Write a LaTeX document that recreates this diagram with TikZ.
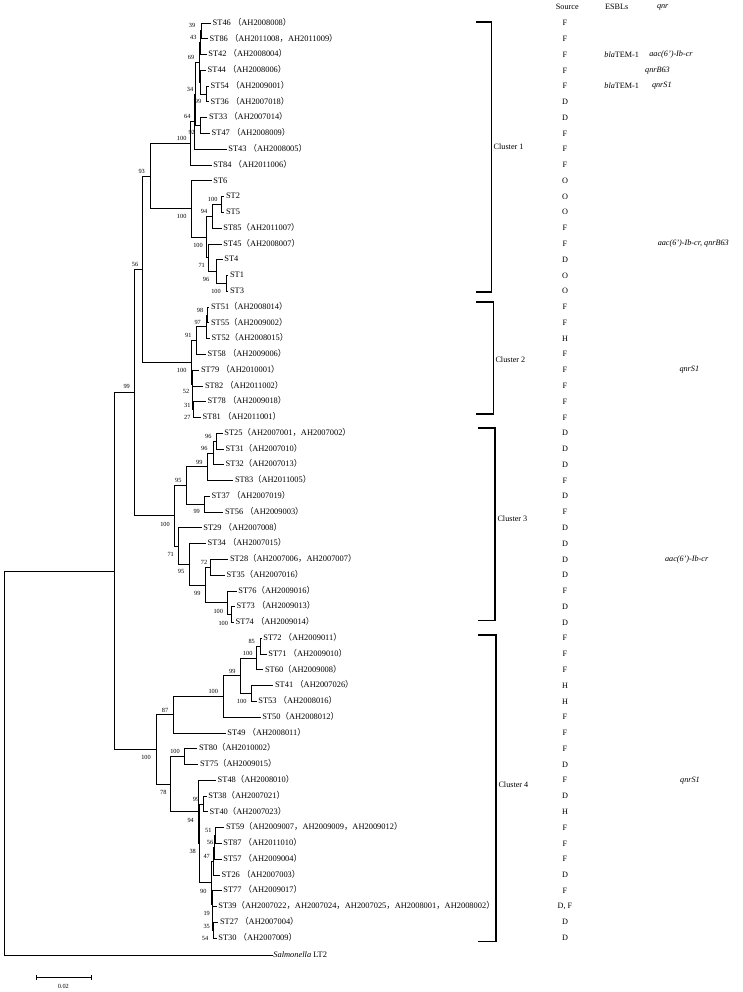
\documentclass[tikz,border=0pt]{standalone}
\usepackage{fontspec}
\setmainfont{Liberation Serif}
\newfontfamily\cjkfont{Noto Sans CJK SC}
\newcommand{\flp}{{\cjkfont （}}
\newcommand{\frp}{{\cjkfont ）}}
\newcommand{\fcm}{{\cjkfont ，}}
\tikzset{
  branch/.style={line width=0.8pt},
  leaf/.style={anchor=west, inner sep=1.5pt, font=\fontsize{8.4}{9}\selectfont, text height=6pt, text depth=1.5pt},
  boot/.style={inner sep=0pt, font=\fontsize{6.3}{7}\selectfont},
  col/.style={inner sep=0pt, font=\fontsize{8.2}{9}\selectfont},
  clbox/.style={line width=1.2pt},
}
\begin{document}
\begin{tikzpicture}[x=1pt,y=-1pt]
\useasboundingbox (0,0) rectangle (743,992);

% leaves
\node[leaf] (st46) at (211,23.0) {ST46 \flp AH2008008\frp};
\node[leaf] (st86) at (208,38.8) {ST86 \flp AH2011008\fcm AH2011009\frp};
\node[leaf] (st42) at (206.7,54.6) {ST42 \flp AH2008004\frp};
\node[leaf] (st44) at (206,70.3) {ST44 \flp AH2008006\frp};
\node[leaf] (st54) at (209,86.1) {ST54 \flp AH2009001\frp};
\node[leaf] (st36) at (209,101.9) {ST36 \flp AH2007018\frp};
\node[leaf] (st33) at (207.3,117.7) {ST33 \flp AH2007014\frp};
\node[leaf] (st47) at (210,133.4) {ST47 \flp AH2008009\frp};
\node[leaf] (st43) at (226.7,149.2) {ST43 \flp AH2008005\frp};
\node[leaf] (st84) at (211.7,165.0) {ST84 \flp AH2011006\frp};
\node[leaf] (st6) at (211.7,180.8) {ST6};
\node[leaf] (st2) at (224.3,196.5) {ST2};
\node[leaf] (st5) at (224.3,212.3) {ST5};
\node[leaf] (st85) at (221.7,228.1) {ST85\flp AH2011007\frp};
\node[leaf] (st45) at (221.7,243.9) {ST45\flp AH2008007\frp};
\node[leaf] (st4) at (222.7,259.6) {ST4};
\node[leaf] (st1) at (228.3,275.4) {ST1};
\node[leaf] (st3) at (228.3,291.2) {ST3};
\node[leaf] (st51) at (209.3,307.0) {ST51\flp AH2008014\frp};
\node[leaf] (st55) at (209.3,322.8) {ST55\flp AH2009002\frp};
\node[leaf] (st52) at (210,338.5) {ST52\flp AH2008015\frp};
\node[leaf] (st58) at (206,354.3) {ST58 \flp AH2009006\frp};
\node[leaf] (st79) at (199.3,370.1) {ST79 \flp AH2010001\frp};
\node[leaf] (st82) at (203.3,385.9) {ST82 \flp AH2011002\frp};
\node[leaf] (st78) at (206,401.6) {ST78 \flp AH2009018\frp};
\node[leaf] (st81) at (201,417.4) {ST81 \flp AH2011001\frp};
\node[leaf] (st25) at (222.7,433.2) {ST25\flp AH2007001\fcm AH2007002\frp};
\node[leaf] (st31) at (224,449.0) {ST31\flp AH2007010\frp};
\node[leaf] (st32) at (224,464.7) {ST32\flp AH2007013\frp};
\node[leaf] (st83) at (233.3,480.5) {ST83\flp AH2011005\frp};
\node[leaf] (st37) at (210,496.3) {ST37 \flp AH2007019\frp};
\node[leaf] (st56) at (223.3,512.1) {ST56 \flp AH2009003\frp};
\node[leaf] (st29) at (201.7,527.8) {ST29 \flp AH2007008\frp};
\node[leaf] (st34) at (206,543.6) {ST34 \flp AH2007015\frp};
\node[leaf] (st28) at (228.3,559.4) {ST28\flp AH2007006\fcm AH2007007\frp};
\node[leaf] (st35) at (225,575.2) {ST35\flp AH2007016\frp};
\node[leaf] (st76) at (236.7,590.9) {ST76\flp AH2009016\frp};
\node[leaf] (st73) at (235,606.7) {ST73 \flp AH2009013\frp};
\node[leaf] (st74) at (234,622.5) {ST74 \flp AH2009014\frp};
\node[leaf] (st72) at (261.7,638.3) {ST72 \flp AH2009011\frp};
\node[leaf] (st71) at (266.7,654.0) {ST71 \flp AH2009010\frp};
\node[leaf] (st60) at (263.3,669.8) {ST60\flp AH2009008\frp};
\node[leaf] (st41) at (273.3,685.6) {ST41 \flp AH2007026\frp};
\node[leaf] (st53) at (256.7,701.4) {ST53 \flp AH2008016\frp};
\node[leaf] (st50) at (260.7,717.2) {ST50\flp AH2008012\frp};
\node[leaf] (st49) at (225.7,732.9) {ST49 \flp AH2008011\frp};
\node[leaf] (st80) at (197.3,748.7) {ST80\flp AH2010002\frp};
\node[leaf] (st75) at (198.3,764.5) {ST75\flp AH2009015\frp};
\node[leaf] (st48) at (216,780.3) {ST48\flp AH2008010\frp};
\node[leaf] (st38) at (206.7,796.0) {ST38\flp AH2007021\frp};
\node[leaf] (st40) at (208,811.8) {ST40\flp AH2007023\frp};
\node[leaf] (st59) at (224.3,827.6) {ST59\flp AH2009007\fcm AH2009009\fcm AH2009012\frp};
\node[leaf] (st87) at (221.7,843.4) {ST87 \flp AH2011010\frp};
\node[leaf] (st57) at (221.7,859.1) {ST57 \flp AH2009004\frp};
\node[leaf] (st26) at (220,874.9) {ST26 \flp AH2007003\frp};
\node[leaf] (st77) at (221.7,890.7) {ST77 \flp AH2009017\frp};
\node[leaf] (st39) at (216.7,906.5) {ST39\flp AH2007022\fcm AH2007024\fcm AH2007025\fcm AH2008001\fcm AH2008002\frp};
\node[leaf] (st27) at (218.3,922.2) {ST27 \flp AH2007004\frp};
\node[leaf] (st30) at (216.7,938.0) {ST30 \flp AH2007009\frp};
\node[leaf, inner sep=0.5pt] (sal) at (272.7,955.0) {\textit{Salmonella} LT2};

% cluster 1
\coordinate (n39) at (201.7,30.9);
\coordinate (n43) at (200,42.75);
\coordinate (n99a) at (206.7,94.0);
\coordinate (n34) at (200.5,82.15);
\coordinate (n69) at (199,62.45);
\coordinate (n92) at (200,125.55);
\coordinate (n98) at (195.5,94.0);
\coordinate (n64) at (194.3,121.6);
\coordinate (n100a) at (190.7,143.3);
\coordinate (n100p) at (221.7,204.4);
\coordinate (n94a) at (212.7,216.25);
\coordinate (n100c) at (226.5,283.3);
\coordinate (n96) at (216,271.45);
\coordinate (n71) at (208.5,257.7);
\coordinate (n100d) at (206.7,237.0);
\coordinate (n100b) at (191,208.9);
\coordinate (n93) at (150.7,176.1);
% cluster 2
\coordinate (n98b) at (207,314.9);
\coordinate (n97) at (206,326.7);
\coordinate (n91) at (196.7,340.5);
\coordinate (n27) at (193.3,409.5);
\coordinate (n31) at (192.7,397.7);
\coordinate (n52) at (192,383.9);
\coordinate (n100e) at (191,362.2);
\coordinate (n56) at (142.7,269.15);
% cluster 3
\coordinate (n96b) at (216.7,441.1);
\coordinate (n96a) at (213.3,452.9);
\coordinate (n99c) at (207.3,466.7);
\coordinate (n99d) at (204,504.2);
\coordinate (n95) at (186,485.45);
\coordinate (n72) at (210.7,567.3);
\coordinate (n100m) at (231.7,614.6);
\coordinate (n100l) at (227.3,602.75);
\coordinate (n99e) at (205,585.0);
\coordinate (n95b) at (189.3,564.3);
\coordinate (n71b) at (178.3,546.05);
\coordinate (n100f) at (174,515.75);
\coordinate (n134) at (134.3,392.45);
% cluster 4
\coordinate (n85) at (260,646.15);
\coordinate (n100i) at (256.7,657.98);
\coordinate (n100j) at (251.7,693.5);
\coordinate (n99f) at (240,675.74);
\coordinate (n100h) at (223.3,696.47);
\coordinate (n87) at (173.3,714.69);
\coordinate (n100k) at (184,756.6);
\coordinate (n99g) at (203.3,803.9);
\coordinate (a1) at (215,835.5);
\coordinate (a2) at (214.5,847.3);
\coordinate (a3) at (213.5,861.1);
\coordinate (b1) at (213,930.1);
\coordinate (b2) at (212.5,918.3);
\coordinate (b3) at (212,904.5);
\coordinate (n90) at (211.7,882.8);
\coordinate (n38) at (199.3,843.35);
\coordinate (n94) at (198.3,811.8);
\coordinate (n78) at (170,784.2);
\coordinate (n100g) at (156,749.45);
\coordinate (n114) at (114,570.95);
\coordinate (root) at (4,762.98);

% branches
\begin{scope}[branch]
\draw (n39) |- (st46.west) (n39) |- (st86.west);
\draw (n43) |- (n39) (n43) |- (st42.west);
\draw (n99a) |- (st54.west) (n99a) |- (st36.west);
\draw (n34) |- (st44.west) (n34) |- (n99a);
\draw (n69) |- (n43) (n69) |- (n34);
\draw (n92) |- (st33.west) (n92) |- (st47.west);
\draw (n98) |- (n69) (n98) |- (n92);
\draw (n64) |- (n98) (n64) |- (st43.west);
\draw (n100a) |- (n64) (n100a) |- (st84.west);
\draw (n100p) |- (st2.west) (n100p) |- (st5.west);
\draw (n94a) |- (n100p) (n94a) |- (st85.west);
\draw (n100c) |- (st1.west) (n100c) |- (st3.west);
\draw (n96) |- (st4.west) (n96) |- (n100c);
\draw (n71) |- (st45.west) (n71) |- (n96);
\draw (n100d) |- (n94a) (n100d) |- (n71);
\draw (n100b) |- (st6.west) (n100b) |- (n100d);
\draw (n93) |- (n100a) (n93) |- (n100b);
\draw (n98b) |- (st51.west) (n98b) |- (st55.west);
\draw (n97) |- (n98b) (n97) |- (st52.west);
\draw (n91) |- (n97) (n91) |- (st58.west);
\draw (n27) |- (st78.west) (n27) |- (st81.west);
\draw (n31) |- (st82.west) (n31) |- (n27);
\draw (n52) |- (st79.west) (n52) |- (n31);
\draw (n100e) |- (n91) (n100e) |- (n52);
\draw (n56) |- (n93) (n56) |- (n100e);
\draw (n96b) |- (st25.west) (n96b) |- (st31.west);
\draw (n96a) |- (n96b) (n96a) |- (st32.west);
\draw (n99c) |- (n96a) (n99c) |- (st83.west);
\draw (n99d) |- (st37.west) (n99d) |- (st56.west);
\draw (n95) |- (n99c) (n95) |- (n99d);
\draw (n72) |- (st28.west) (n72) |- (st35.west);
\draw (n100m) |- (st73.west) (n100m) |- (st74.west);
\draw (n100l) |- (st76.west) (n100l) |- (n100m);
\draw (n99e) |- (n72) (n99e) |- (n100l);
\draw (n95b) |- (st34.west) (n95b) |- (n99e);
\draw (n71b) |- (st29.west) (n71b) |- (n95b);
\draw (n100f) |- (n95) (n100f) |- (n71b);
\draw (n134) |- (n56) (n134) |- (n100f);
\draw (n85) |- (st72.west) (n85) |- (st71.west);
\draw (n100i) |- (n85) (n100i) |- (st60.west);
\draw (n100j) |- (st41.west) (n100j) |- (st53.west);
\draw (n99f) |- (n100i) (n99f) |- (n100j);
\draw (n100h) |- (n99f) (n100h) |- (st50.west);
\draw (n87) |- (n100h) (n87) |- (st49.west);
\draw (n100k) |- (st80.west) (n100k) |- (st75.west);
\draw (n99g) |- (st38.west) (n99g) |- (st40.west);
\draw (a1) |- (st59.west) (a1) |- (st87.west);
\draw (a2) |- (a1) (a2) |- (st57.west);
\draw (a3) |- (a2) (a3) |- (st26.west);
\draw (b1) |- (st27.west) (b1) |- (st30.west);
\draw (b2) |- (st39.west) (b2) |- (b1);
\draw (b3) |- (st77.west) (b3) |- (b2);
\draw (n90) |- (a3) (n90) |- (b3);
\draw (n38) |- (n99g) (n38) |- (n90);
\draw (n94) |- (st48.west) (n94) |- (n38);
\draw (n78) |- (n100k) (n78) |- (n94);
\draw (n100g) |- (n87) (n100g) |- (n78);
\draw (n114) |- (n134) (n114) |- (n100g);
\draw (root) |- (n114) (root) |- (sal.west);
\end{scope}

% bootstrap values
\node[boot] (bn39) at (192,25) {39};
\node[boot] (bn43) at (193.3,37.7) {43};
\node[boot] (bn69) at (191,57.3) {69};
\node[boot] (bn34) at (190,89) {34};
\node[boot] (bn99a) at (198,101.7) {99};
\node[boot] (bn64) at (187.3,116.7) {64};
\node[boot] (bn92) at (191.7,132.7) {92};
\node[boot] (bn100a) at (181.7,138.3) {100};
\node[boot] (bn93) at (141.7,171) {93};
\node[boot] (bn100b) at (181.7,216.7) {100};
\node[boot] (bn100p) at (212.7,199.3) {100};
\node[boot] (bn94a) at (204,211) {94};
\node[boot] (bn100d) at (198,245) {100};
\node[boot] (bn71) at (201.7,265) {71};
\node[boot] (bn96) at (206,279.3) {96};
\node[boot] (bn100c) at (216,291) {100};
\node[boot] (bn56) at (135,264) {56};
\node[boot] (bn98b) at (200,310) {98};
\node[boot] (bn97) at (197.7,322.3) {97};
\node[boot] (bn91) at (188.3,335) {91};
\node[boot] (bn100e) at (181.7,370.7) {100};
\node[boot] (bn52) at (186,391) {52};
\node[boot] (bn31) at (187.3,405) {31};
\node[boot] (bn27) at (187.3,417.3) {27};
\node[boot] (bn134) at (126.7,386.7) {99};
\node[boot] (bn96b) at (208.3,436) {96};
\node[boot] (bn96a) at (204.3,448.3) {96};
\node[boot] (bn99c) at (199.3,462.3) {99};
\node[boot] (bn95) at (178.3,480.7) {95};
\node[boot] (bn99d) at (196.7,511.7) {99};
\node[boot] (bn100f) at (165,524.3) {100};
\node[boot] (bn71b) at (170.7,554) {71};
\node[boot] (bn72) at (204,562.7) {72};
\node[boot] (bn95b) at (181,571.7) {95};
\node[boot] (bn99e) at (197.3,593.3) {99};
\node[boot] (bn100l) at (218.3,611.7) {100};
\node[boot] (bn100m) at (223.3,623.3) {100};
\node[boot] (bn85) at (251.7,641.7) {85};
\node[boot] (bn100i) at (247.7,653) {100};
\node[boot] (bn99f) at (232.3,671) {99};
\node[boot] (bn100h) at (213.3,691.7) {100};
\node[boot] (bn100j) at (241.7,701.7) {100};
\node[boot] (bn87) at (165,710) {87};
\node[boot] (bn100g) at (146,757) {100};
\node[boot] (bn100k) at (175,751.7) {100};
\node[boot] (bn78) at (163.3,792.7) {78};
\node[boot] (bn99g) at (196,799.3) {99};
\node[boot] (bn94) at (190.7,820.7) {94};
\node[boot] (ba1) at (208.3,830.7) {51};
\node[boot] (ba2) at (210,842.7) {56};
\node[boot] (ba3) at (206.7,856.7) {47};
\node[boot] (bn38) at (192.7,851.7) {38};
\node[boot] (bn90) at (203.3,891.7) {90};
\node[boot] (bb3) at (206.7,913.3) {19};
\node[boot] (bb2) at (206.7,926.7) {35};
\node[boot] (bb1) at (205,938.3) {54};

% clusters
\draw[clbox] (476,22) -- (491.5,22) -- (491.5,292) -- (476,292);
\draw[clbox] (476,302) -- (493.3,302) -- (493.3,414) -- (476,414);
\draw[clbox] (478,428) -- (495,428) -- (495,620.7) -- (478,620.7);
\draw[clbox] (478,635) -- (496,635) -- (496,941.7) -- (478,941.7);
\node[col, anchor=west] (cl1) at (493.5,147) {Cluster 1};
\node[col, anchor=west] (cl2) at (495.3,359.3) {Cluster 2};
\node[col, anchor=west] (cl3) at (497.3,518.3) {Cluster 3};
\node[col, anchor=west] (cl4) at (498.3,785) {Cluster 4};

% columns
\node[col] (hsrc) at (567.3,7.3) {Source};
\node[col] (hesbl) at (616.7,7.3) {ESBLs};
\node[col] (hqnr) at (662.7,7.3) {\textit{qnr}};
\foreach \s [count=\i] in {F,F,F,F,F,D,D,F,F,F,O,O,O,F,F,D,O,O,F,F,H,F,F,F,F,F,
  D,D,D,F,D,F,D,D,D,D,F,D,D,F,F,F,H,H,F,F,F,D,F,D,H,F,F,F,D,F,{D, F},D,D}
  \node[col] (src\i) at (565,{23+(\i-1)*15.776}) {\s};
\node[col] (esbl1) at (621.7,54.6) {\textit{bla}TEM-1};
\node[col] (esbl2) at (621.7,86.1) {\textit{bla}TEM-1};
\node[col] (qnr1) at (671,54.6) {\textit{aac(6')-Ib-cr}};
\node[col] (qnr2) at (657.5,70.3) {\textit{qnrB63}};
\node[col] (qnr3) at (661.8,86.1) {\textit{qnrS1}};
\node[col] (qnr4) at (693.3,243.9) {\textit{aac(6')-Ib-cr, qnrB63}};
\node[col] (qnr5) at (689.3,370.1) {\textit{qnrS1}};
\node[col] (qnr6) at (686.7,559.4) {\textit{aac(6')-Ib-cr}};
\node[col] (qnr7) at (690,780.3) {\textit{qnrS1}};

% scale bar
\draw[branch] (36.7,974.8) -- (36.7,979.8) (36.7,977.3) -- (91.7,977.3) (91.7,974.8) -- (91.7,979.8);
\node[boot] (sclab) at (63.3,986) {0.02};
\end{tikzpicture}
\end{document}
